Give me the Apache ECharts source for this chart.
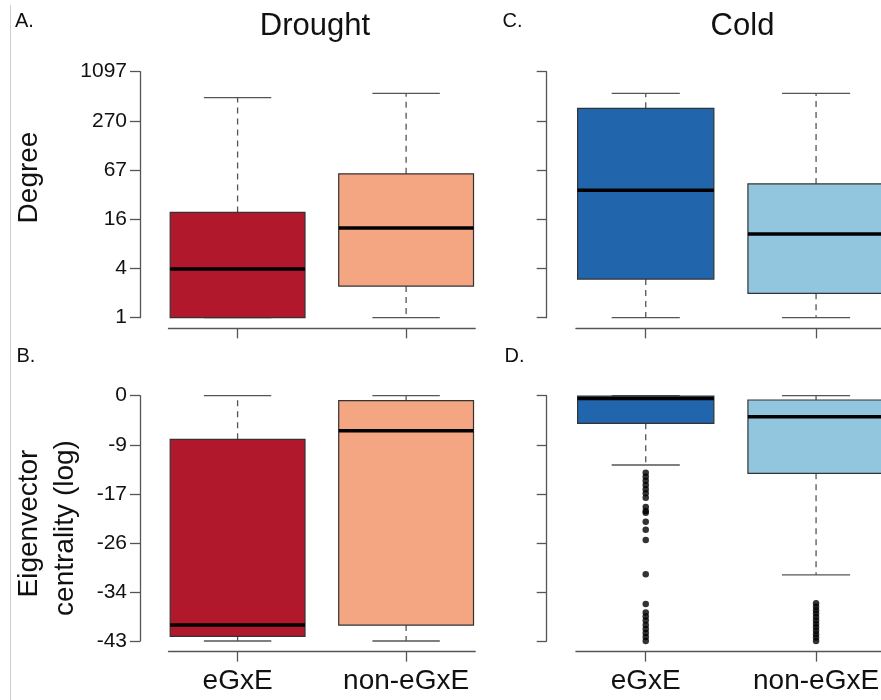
<!DOCTYPE html>
<html><head><meta charset="utf-8">
<script src="https://cdn.jsdelivr.net/npm/echarts@6/dist/echarts.min.js"></script>
<style>html,body{margin:0;padding:0;background:#fff}#c{width:881px;height:700px}</style>
</head><body><div id="c"></div>
<script>
// ---------- data ----------
const categories = ['eGxE', 'non-eGxE'];
const degreeTickLabels = ['1', '4', '16', '67', '270', '1097'];
const eigenTickLabels = ['-43', '-34', '-26', '-17', '-9', '0'];

// box statistics: [min, Q1, median, Q3, max]
// Degree (raw degree, drawn on a natural-log scale)
const droughtDegree_eGxE    = [1, 1, 4, 20, 523];
const droughtDegree_nonEGxE = [1, 2.46, 12.8, 60, 593];
const coldDegree_eGxE       = [1, 3, 37.5, 387, 593];
const coldDegree_nonEGxE    = [1, 2, 10.8, 45, 593];

// Eigenvector centrality (log)
const droughtEigen_eGxE    = [-43, -42.2, -40.2, -7.65, 0];
const droughtEigen_nonEGxE = [-43, -40.2, -6.13, -0.87, 0];
const coldEigen_eGxE       = [-12.15, -4.84, -0.5, -0.05, 0];
const coldEigen_nonEGxE    = [-31.4, -13.6, -3.68, -0.75, 0];

// outliers (Cold, eigenvector centrality)
const coldEigenOutliers_eGxE = [-13.5, -14.2, -14.9, -15.65, -16.4, -17.1, -17.9, -19.5, -20.2, -20.5,
  -22.1, -23.5, -25.3, -31.3, -36.5, -38.0, -38.7, -39.4, -40.2, -40.9, -41.6, -42.3, -43];
const coldEigenOutliers_nonEGxE = [-36.4, -37.0, -37.6, -38.2, -38.8, -39.4, -40.0, -40.6, -41.2,
  -41.8, -42.4, -43];

const droughtColors = ['#b2182b', '#f4a582'];
const coldColors = ['#2166ac', '#92c5de'];

// ---------- chart ----------
const FONT = 'Liberation Sans, Arial, Helvetica, sans-serif';
const AXIS_COLOR = '#555';
const degMin = 0, degMax = 7, degInt = 1.4;
const eigMin = -43, eigMax = 0, eigInt = 8.6;

function boxRow(x, stats, transform) {
  const s = transform ? stats.map(transform) : stats;
  return [x].concat(s);
}

function makeRender(colors) {
  return function (params, api) {
    const x = api.value(0);
    const lo = api.value(1), q1 = api.value(2), med = api.value(3), q3 = api.value(4), hi = api.value(5);
    const w = api.size([0.8, 0])[0];
    const hw = w / 2, sw = w / 4;
    const cx = api.coord([x, med])[0];
    const yLo = api.coord([x, lo])[1];
    const yQ1 = api.coord([x, q1])[1];
    const yMed = api.coord([x, med])[1];
    const yQ3 = api.coord([x, q3])[1];
    const yHi = api.coord([x, hi])[1];
    const dashed = { stroke: AXIS_COLOR, lineWidth: 1.3, lineDash: [6, 5] };
    const solid = { stroke: AXIS_COLOR, lineWidth: 1.3 };
    return {
      type: 'group',
      children: [
        { type: 'line', shape: { x1: cx, y1: yQ3, x2: cx, y2: yHi }, style: dashed },
        { type: 'line', shape: { x1: cx, y1: yQ1, x2: cx, y2: yLo }, style: dashed },
        { type: 'line', shape: { x1: cx - sw, y1: yHi, x2: cx + sw, y2: yHi }, style: solid },
        { type: 'line', shape: { x1: cx - sw, y1: yLo, x2: cx + sw, y2: yLo }, style: solid },
        { type: 'rect', shape: { x: cx - hw, y: yQ3, width: w, height: yQ1 - yQ3 },
          style: { fill: colors[params.dataIndex], stroke: '#333', lineWidth: 1.2 } },
        { type: 'line', shape: { x1: cx - hw, y1: yMed, x2: cx + hw, y2: yMed },
          style: { stroke: '#000', lineWidth: 3.5 } }
      ]
    };
  };
}

const grids = [
  { left: 168.5, top: 71.7, width: 306.7, height: 246 },   // A
  { left: 168.5, top: 395.7, width: 306.7, height: 245.3 }, // B
  { left: 575.9, top: 71.7, width: 310, height: 246 },     // C
  { left: 575.9, top: 395.7, width: 310, height: 245.3 }   // D
].map(g => Object.assign({ outerBoundsMode: 'none', containLabel: false }, g));

function xAx(i, showLabel) {
  return {
    type: 'value', gridIndex: i, min: 0.59, max: 2.41, offset: 10.6,
    axisLine: { show: true, onZero: false, lineStyle: { color: AXIS_COLOR, width: 1.3 } },
    axisTick: { show: true, length: 10, customValues: [1, 2], lineStyle: { color: AXIS_COLOR, width: 1.3 } },
    axisLabel: { show: showLabel, customValues: [1, 2], margin: 16, fontSize: 28, color: '#111', fontFamily: FONT,
      formatter: v => categories[Math.round(v) - 1] || '' },
    splitLine: { show: false }
  };
}
function yAx(i, isDegree, showLabel, offset) {
  const mn = isDegree ? degMin : eigMin, mx = isDegree ? degMax : eigMax, it = isDegree ? degInt : eigInt;
  const labels = isDegree ? degreeTickLabels : eigenTickLabels;
  return {
    type: 'value', gridIndex: i, min: mn, max: mx, interval: it, offset: offset,
    axisLine: { show: true, onZero: false, lineStyle: { color: AXIS_COLOR, width: 1.3 } },
    axisTick: { show: true, length: 10, lineStyle: { color: AXIS_COLOR, width: 1.3 } },
    axisLabel: { show: showLabel, margin: 13, fontSize: 21, color: '#111', fontFamily: FONT,
      formatter: v => labels[Math.round((v - mn) / it)] },
    splitLine: { show: false }
  };
}

const ln = v => Math.log(v);

const option = {
  animation: false,
  backgroundColor: '#fff',
  grid: grids,
  xAxis: [xAx(0, false), xAx(1, true), xAx(2, false), xAx(3, true)],
  yAxis: [yAx(0, true, true, 28.5), yAx(1, false, true, 28.5), yAx(2, true, false, 29.2), yAx(3, false, false, 29.2)],
  series: [
    { type: 'custom', xAxisIndex: 0, yAxisIndex: 0, renderItem: makeRender(droughtColors), clip: false,
      encode: { x: 0, y: [1, 2, 3, 4, 5] },
      data: [boxRow(1, droughtDegree_eGxE, ln), boxRow(2, droughtDegree_nonEGxE, ln)] },
    { type: 'custom', xAxisIndex: 1, yAxisIndex: 1, renderItem: makeRender(droughtColors), clip: false,
      encode: { x: 0, y: [1, 2, 3, 4, 5] },
      data: [boxRow(1, droughtEigen_eGxE), boxRow(2, droughtEigen_nonEGxE)] },
    { type: 'custom', xAxisIndex: 2, yAxisIndex: 2, renderItem: makeRender(coldColors), clip: false,
      encode: { x: 0, y: [1, 2, 3, 4, 5] },
      data: [boxRow(1, coldDegree_eGxE, ln), boxRow(2, coldDegree_nonEGxE, ln)] },
    { type: 'custom', xAxisIndex: 3, yAxisIndex: 3, renderItem: makeRender(coldColors), clip: false,
      encode: { x: 0, y: [1, 2, 3, 4, 5] },
      data: [boxRow(1, coldEigen_eGxE), boxRow(2, coldEigen_nonEGxE)] },
    { type: 'scatter', xAxisIndex: 3, yAxisIndex: 3, symbol: 'circle', symbolSize: 6.5,
      itemStyle: { color: '#000' }, z: 5,
      data: coldEigenOutliers_eGxE.map(v => [1, v]).concat(coldEigenOutliers_nonEGxE.map(v => [2, v])) }
  ],
  graphic: [
    { type: 'line', shape: { x1: 10.5, y1: 5, x2: 10.5, y2: 700 }, style: { stroke: '#cfcfcf', lineWidth: 1 } },
    { type: 'text', x: 315, y: 26, style: { text: 'Drought', font: '31px ' + FONT, fill: '#111', textAlign: 'center', textVerticalAlign: 'middle' } },
    { type: 'text', x: 742.5, y: 26, style: { text: 'Cold', font: '31px ' + FONT, fill: '#111', textAlign: 'center', textVerticalAlign: 'middle' } },
    { type: 'text', x: 15, y: 21, style: { text: 'A.', font: '20px ' + FONT, fill: '#111', textAlign: 'left', textVerticalAlign: 'middle' } },
    { type: 'text', x: 502.5, y: 21, style: { text: 'C.', font: '20px ' + FONT, fill: '#111', textAlign: 'left', textVerticalAlign: 'middle' } },
    { type: 'text', x: 16.5, y: 356.5, style: { text: 'B.', font: '20px ' + FONT, fill: '#111', textAlign: 'left', textVerticalAlign: 'middle' } },
    { type: 'text', x: 504.5, y: 356.5, style: { text: 'D.', font: '20px ' + FONT, fill: '#111', textAlign: 'left', textVerticalAlign: 'middle' } },
    { type: 'text', x: 29, y: 177.5, rotation: Math.PI / 2, style: { text: 'Degree', font: '28px ' + FONT, fill: '#111', textAlign: 'center', textVerticalAlign: 'middle' } },
    { type: 'text', x: 29, y: 523.5, rotation: Math.PI / 2, style: { text: 'Eigenvector', font: '28px ' + FONT, fill: '#111', textAlign: 'center', textVerticalAlign: 'middle' } },
    { type: 'text', x: 65, y: 528, rotation: Math.PI / 2, style: { text: 'centrality (log)', font: '28px ' + FONT, fill: '#111', textAlign: 'center', textVerticalAlign: 'middle' } }
  ]
};

const chart = echarts.init(document.getElementById('c'), null, { renderer: 'canvas' });
chart.setOption(option);
</script>
</body></html>
